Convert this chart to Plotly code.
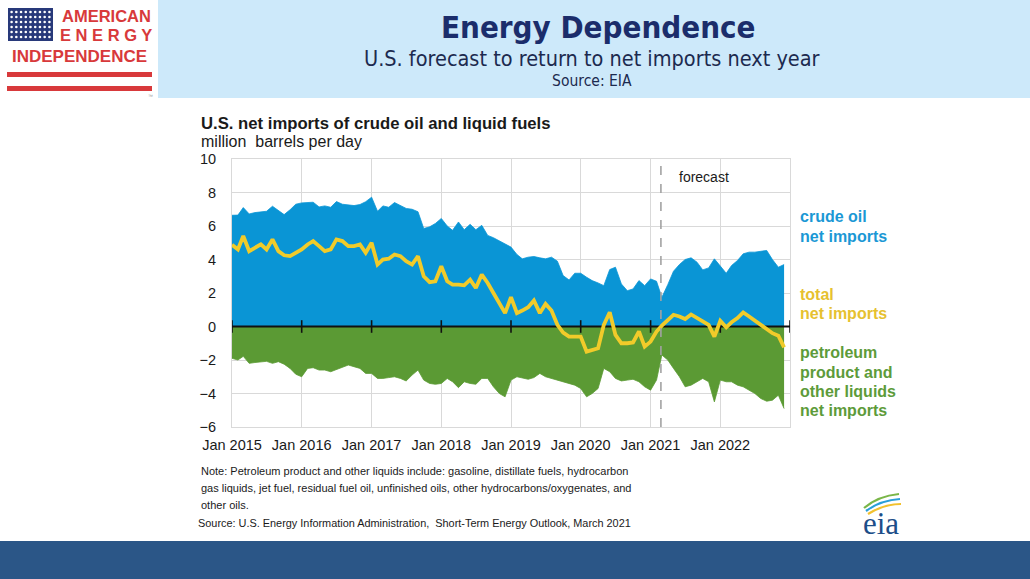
import numpy as np
import pandas as pd
import plotly.graph_objects as go

W, H = 1030, 579
OX, OY = 0, 0  # page body margin is removed below

# ---------------- data (million barrels per day), monthly Jan 2015 - Dec 2022 ----------------
months = pd.date_range("2015-01-01", periods=96, freq="MS")

crude_net_imports = [
    6.64, 6.65, 7.10, 6.72, 6.80, 6.84, 6.88, 7.18, 6.90, 6.68, 6.97, 7.30,
    7.38, 7.38, 7.42, 7.14, 7.20, 7.12, 7.46, 7.30, 7.26, 7.22, 7.28, 7.45,
    7.72, 6.88, 7.20, 7.12, 7.40, 7.22, 7.05, 7.00, 6.85, 5.85, 5.95, 6.15,
    6.45, 6.00, 5.74, 6.24, 5.78, 6.10, 5.78, 6.04, 5.44, 5.30, 5.10, 4.90,
    4.74, 4.30, 4.04, 4.14, 4.18, 4.10, 4.04, 4.14, 3.90, 3.04, 2.78, 3.18,
    3.18, 2.94, 2.74, 2.60, 2.44, 3.40, 3.54, 2.54, 2.14, 2.24, 2.74, 2.44,
    2.84, 2.70, 1.74, 2.50, 3.30, 3.70, 4.00, 4.10, 3.84, 3.38, 3.50, 4.04,
    3.60, 3.18, 3.64, 3.94, 4.34, 4.44, 4.44, 4.50, 4.54, 4.00, 3.54, 3.70,
]

product_net_imports = [
    -1.90, -2.00, -1.78, -2.20, -2.15, -2.10, -2.08, -2.20, -2.10, -2.25, -2.50, -2.85,
    -3.00, -2.50, -2.46, -2.60, -2.60, -2.70, -2.58, -2.45, -2.30, -2.40, -2.50, -2.80,
    -2.80, -3.10, -3.10, -3.05, -3.00, -3.10, -3.25, -2.90, -2.60, -3.20, -3.40, -3.45,
    -3.40, -3.10, -3.30, -3.65, -3.30, -3.40, -3.45, -3.10, -3.10, -3.60, -4.00, -4.20,
    -3.20, -3.00, -3.05, -3.15, -3.05, -2.80, -3.00, -3.10, -3.20, -3.26, -3.36, -3.50,
    -3.70, -4.20, -4.00, -3.70, -2.50, -2.70, -3.10, -3.25, -3.20, -3.15, -3.30, -3.60,
    -3.80, -3.20, -1.70, -2.00, -2.50, -3.00, -3.60, -3.50, -3.30, -3.10, -3.30, -4.50,
    -3.20, -3.30, -3.30, -3.50, -3.60, -3.80, -4.00, -4.30, -4.46, -4.40, -4.10, -4.90,
]

total_net_imports = [
    4.88, 4.60, 5.40, 4.50, 4.70, 4.90, 4.60, 5.20, 4.50, 4.25, 4.20, 4.40,
    4.60, 4.90, 5.10, 4.80, 4.50, 4.60, 5.20, 5.10, 4.80, 4.80, 4.90, 4.40,
    5.00, 3.70, 4.00, 4.05, 4.30, 4.20, 3.90, 3.70, 4.20, 3.00, 2.65, 2.70,
    3.60, 2.70, 2.50, 2.50, 2.46, 2.80, 2.30, 3.10, 2.60, 2.00, 1.35, 0.80,
    1.75, 0.80, 0.95, 1.15, 1.55, 0.80, 1.35, 0.95, 0.10, -0.36, -0.60, -0.60,
    -0.60, -1.50, -1.40, -1.30, 0.10, 0.85, -0.50, -1.00, -1.00, -0.95, -0.30, -1.20,
    -0.90, -0.30, 0.05, 0.40, 0.70, 0.60, 0.45, 0.72, 0.50, 0.28, 0.10, -0.60,
    0.34, -0.05, 0.25, 0.50, 0.84, 0.60, 0.34, 0.10, -0.20, -0.40, -0.55, -1.25,
]

year_ticks = [f"{y}-01-01" for y in range(2015, 2023)]
year_labels = [f"Jan {y}" for y in range(2015, 2023)]
zero_tick_marks = [f"{y}-01-01" for y in range(2015, 2024)]
y_ticks = [-6, -4, -2, 0, 2, 4, 6, 8, 10]
X_START, X_END = "2015-01-01", "2023-01-01"
FORECAST_START = "2021-02-24"

# ---------------- colours ----------------
BLUE = "#0a95d5"
GREEN = "#5b9a34"
YELLOW = "#f1cb2a"
GRID = "#d9d9d9"
NAVY = "#1b2d6b"
RED = "#d8393b"


def px(x):
    return (x - OX) / W


def py(y):
    return 1 - (y - OY) / H


fig = go.Figure()

fig.add_trace(go.Scatter(x=months, y=crude_net_imports, mode="lines", fill="tozeroy",
                         fillcolor=BLUE, line=dict(color=BLUE, width=0.8),
                         name="crude oil net imports", hoverinfo="x+y"))
fig.add_trace(go.Scatter(x=months, y=product_net_imports, mode="lines", fill="tozeroy",
                         fillcolor=GREEN, line=dict(color=GREEN, width=0.8),
                         name="petroleum product and other liquids net imports", hoverinfo="x+y"))
# zero axis line with year tick marks (drawn above fills, below total line)
fig.add_trace(go.Scatter(x=[X_START, X_END], y=[0, 0], mode="lines",
                         line=dict(color="#111111", width=2), hoverinfo="skip", showlegend=False))
fig.add_trace(go.Scatter(x=zero_tick_marks, y=[0] * len(zero_tick_marks), mode="markers",
                         marker=dict(symbol="line-ns", size=9, line=dict(color="#111111", width=1.6)),
                         hoverinfo="skip", showlegend=False, cliponaxis=False))
fig.add_trace(go.Scatter(x=months, y=total_net_imports, mode="lines",
                         line=dict(color=YELLOW, width=3.8), name="total net imports", hoverinfo="x+y"))

# flag stars (decoration of logo)
sx, sy = np.meshgrid(np.linspace(0.08, 0.92, 9), np.linspace(0.12, 0.88, 6))
fig.add_trace(go.Scatter(x=sx.ravel(), y=sy.ravel(), xaxis="x2", yaxis="y2", mode="markers",
                         marker=dict(color="white", size=2.6), hoverinfo="skip", showlegend=False))

fig.update_layout(
    width=W, height=H, autosize=False,
    margin=dict(l=0, r=0, t=0, b=0, pad=0, autoexpand=False),
    paper_bgcolor="white", plot_bgcolor="white",
    showlegend=False,
    xaxis=dict(type="date", domain=[px(232), px(790)], range=[X_START, X_END],
               tickmode="array", tickvals=year_ticks, ticktext=year_labels, tickangle=0,
               showgrid=True, gridcolor=GRID,
               gridwidth=1, showline=True, linecolor=GRID, linewidth=1, mirror=True,
               ticks="", zeroline=False, automargin=False, ticklabelstandoff=5,
               tickfont=dict(family="Liberation Sans, Arial", size=14.5, color="#1a1a1a")),
    yaxis=dict(domain=[py(427), py(159)], range=[-6, 10], tickvals=y_ticks,
               showgrid=True, gridcolor=GRID, gridwidth=1, showline=True, linecolor=GRID,
               linewidth=1, mirror=True, zeroline=False, ticks="", ticklabelstandoff=12,
               automargin=False,
               tickfont=dict(family="Liberation Sans, Arial", size=14.5, color="#1a1a1a")),
    xaxis2=dict(domain=[px(8), px(53)], range=[0, 1], visible=False, fixedrange=True,
                automargin=False),
    yaxis2=dict(domain=[py(41), py(8)], range=[0, 1], visible=False, fixedrange=True,
                anchor="x2", automargin=False),
)

shapes = [
    # header band
    dict(type="rect", xref="paper", yref="paper", x0=px(158), x1=1.02, y0=py(98), y1=1.05,
         fillcolor="#cde9fa", line=dict(width=0), layer="below"),
    # bottom band
    dict(type="rect", xref="paper", yref="paper", x0=-0.02, x1=1.02, y0=-0.05, y1=py(541),
         fillcolor="#2b5687", line=dict(width=0), layer="below"),
    # logo flag
    dict(type="rect", xref="paper", yref="paper", x0=px(8), x1=px(53), y0=py(41), y1=py(8),
         fillcolor="#28397a", line=dict(width=0), layer="below"),
    dict(type="rect", xref="paper", yref="paper", x0=px(7), x1=px(152), y0=py(77), y1=py(72),
         fillcolor=RED, line=dict(width=0)),
    dict(type="rect", xref="paper", yref="paper", x0=px(7), x1=px(152), y0=py(91), y1=py(86),
         fillcolor=RED, line=dict(width=0)),
    # forecast divider
    dict(type="line", xref="x", yref="y", x0=FORECAST_START, x1=FORECAST_START, y0=-6, y1=10,
         line=dict(color="#a3a3a3", width=1.6, dash="dash"), layer="above"),
]


# eia swooshes
def swoosh(x0, y0, cx, cy, x1, y1):
    return f"M {px(x0)},{py(y0)} Q {px(cx)},{py(cy)} {px(x1)},{py(y1)}"


for (a, c) in [((864, 508, 878, 496, 899, 494), "#7ab648"),
               ((866, 511, 881, 500, 900, 499), "#2a9fd8"),
               ((868, 514, 884, 504, 901, 504), "#f2c12e")]:
    shapes.append(dict(type="path", xref="paper", yref="paper", path=swoosh(*a),
                       line=dict(color=c, width=2.2)))
fig.update_layout(shapes=shapes)

ARIAL = "Liberation Sans, Arial"
TAHOMA = "DejaVu Sans Condensed, DejaVu Sans"


def note(text, x, y, size, color="#1a1a1a", family=ARIAL, xanchor="left", yanchor="middle"):
    fig.add_annotation(xref="paper", yref="paper", x=px(x), y=py(y), text=text, showarrow=False,
                       xanchor=xanchor, yanchor=yanchor,
                       font=dict(family=family, size=size, color=color))


# logo text
note("<b>AMERICAN</b>", 106, 16, 16.5, RED, ARIAL, "center")
note("<b>E N E R G Y</b>", 106, 35, 16.5, RED, ARIAL, "center")
note("<b>INDEPENDENCE</b>", 79, 56, 17, RED, ARIAL, "center")
note("™", 150, 96, 5, "#999999", ARIAL, "center")

# header
note("<b>Energy Dependence</b>", 598, 27, 31, NAVY, TAHOMA, "center")
note("<span style='font-size:21.5px'>U.S. forecast to return to net imports next year</span>"
     "<br>Source: EIA", 592, 68, 15.5, "#1c2a4f", TAHOMA, "center")

# chart headings
note("<b>U.S. net imports of crude oil and liquid fuels</b>", 199, 124, 16.7)
note("million\u00a0\u00a0barrels per day", 199, 141, 16)
note("forecast", 677, 177, 14)

# right-hand series labels
note("<b>crude oil</b>", 798, 216, 16, "#1b98d5")
note("<b>net imports</b>", 798, 236, 16, "#1b98d5")
note("<b>total</b>", 798, 294, 16, "#e6c12f")
note("<b>net imports</b>", 798, 313, 16, "#e6c12f")
note("<b>petroleum</b>", 798, 352, 16, "#5d9b3a")
note("<b>product and</b>", 798, 372, 16, "#5d9b3a")
note("<b>other liquids</b>", 798, 391, 16, "#5d9b3a")
note("<b>net imports</b>", 798, 410, 16, "#5d9b3a")

# footnotes
note("Note: Petroleum product and other liquids include: gasoline, distillate fuels, hydrocarbon",
     199, 471, 11)
note("gas liquids, jet fuel, residual fuel oil, unfinished oils, other hydrocarbons/oxygenates, and",
     199, 488, 11)
note("other oils.", 199, 505, 11)
note("Source: U.S. Energy Information Administration,\u00a0 Short-Term Energy Outlook, March 2021",
     196, 523, 10.9)

# eia logo text
note("eia", 881, 523, 31, "#1d4e89", "Liberation Serif, DejaVu Serif", "center")

fig.write_html("out.html", config={"displayModeBar": False},
               post_script="document.body.style.margin='0px';")
